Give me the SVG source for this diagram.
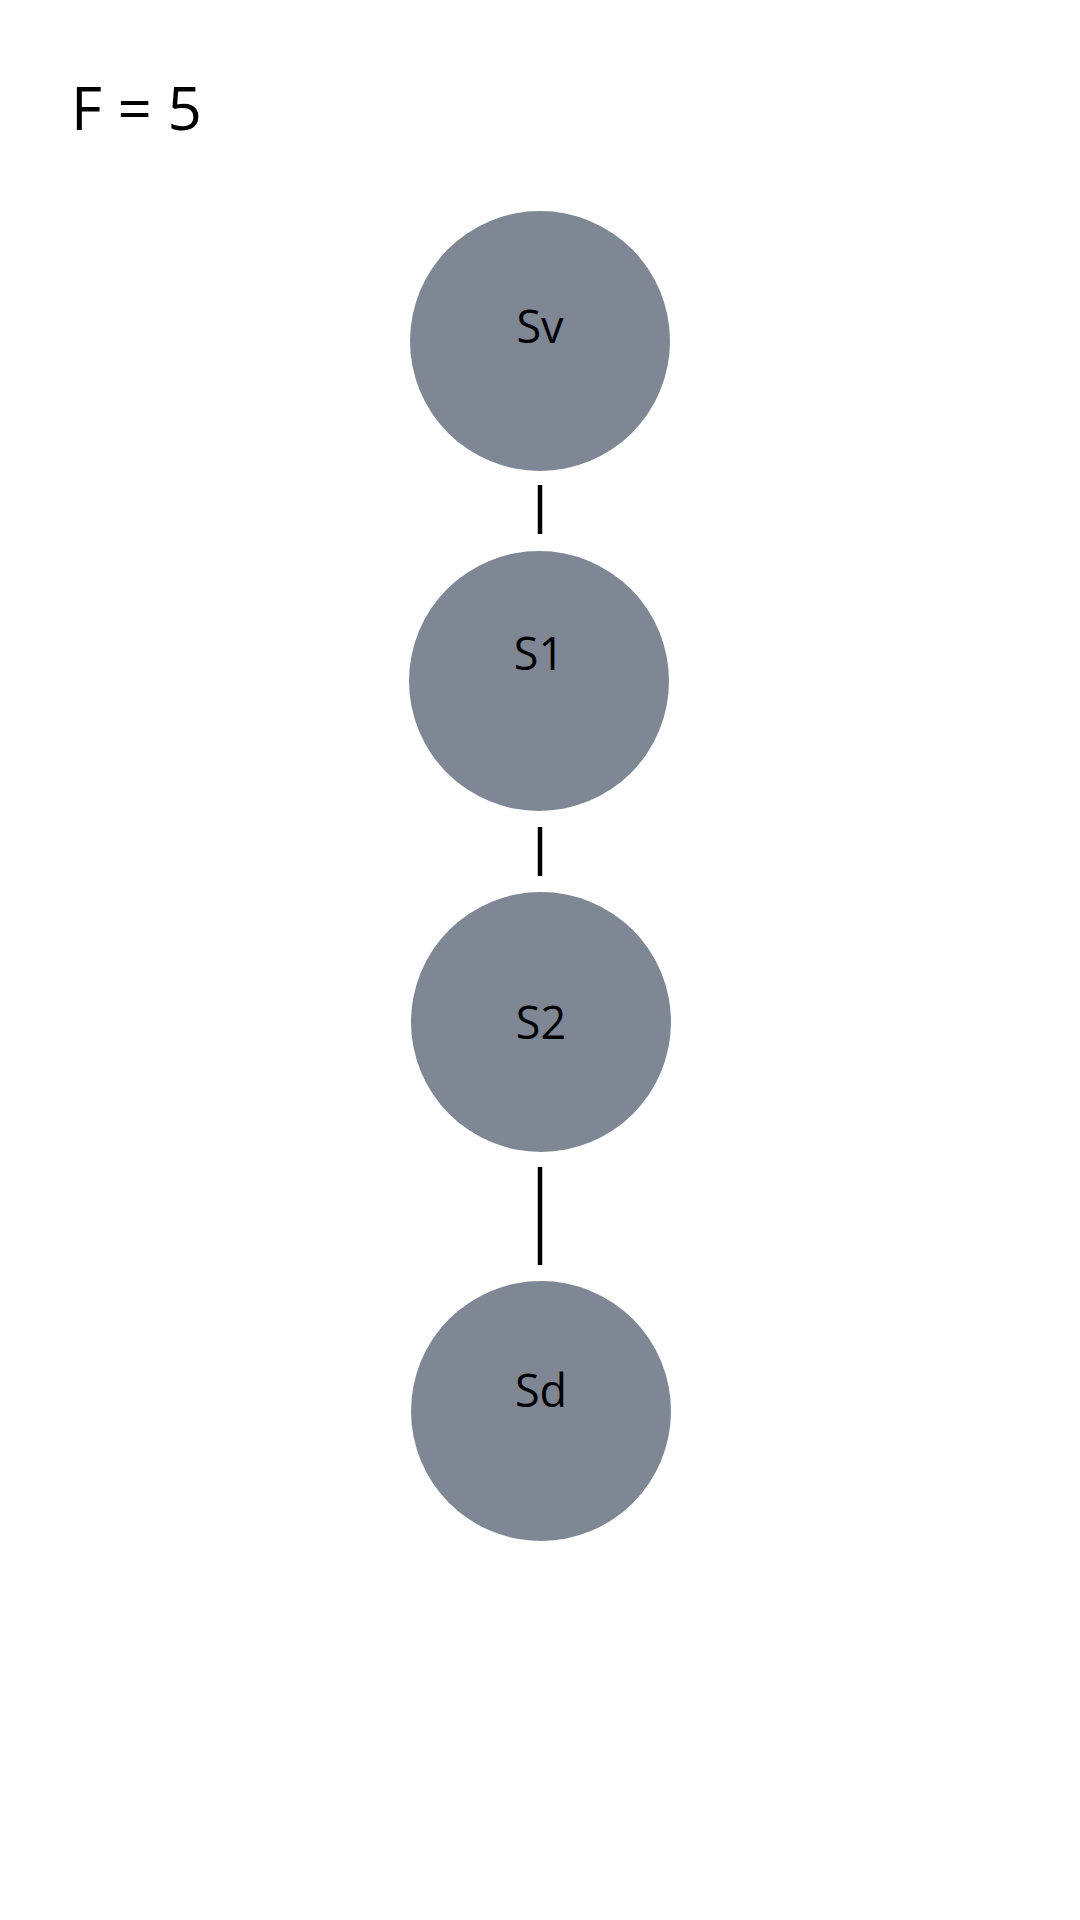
<svg xmlns="http://www.w3.org/2000/svg" width="1080" height="1920" viewBox="0 0 1080 1920">
<style>
.node circle{fill:#7e8793}
.node text{font-family:"Open Sans","Noto Sans",sans-serif;font-size:45px;fill:#000;text-anchor:middle}
.edge line{stroke:#000;stroke-width:4.5}
.title{font-family:"Open Sans","Noto Sans",sans-serif;font-size:60px;fill:#000}
</style>
<rect width="1080" height="1920" fill="#fff"/>
<text class="title" x="71" y="130">F = 5</text>
<g id="connectors" class="edge">
<line x1="540" y1="485" x2="540" y2="534"/>
<line x1="540" y1="827" x2="540" y2="876"/>
<line x1="540" y1="1167" x2="540" y2="1265"/>
</g>
<g id="node-sv" class="node"><circle cx="540" cy="341" r="130"/><text x="540" y="343">Sv</text></g>
<g id="node-s1" class="node"><circle cx="539" cy="681" r="130"/><text x="539" y="670">S1</text></g>
<g id="node-s2" class="node"><circle cx="541" cy="1022" r="130"/><text x="541" y="1039">S2</text></g>
<g id="node-sd" class="node"><circle cx="541" cy="1411" r="130"/><text x="541" y="1407">Sd</text></g>
</svg>
